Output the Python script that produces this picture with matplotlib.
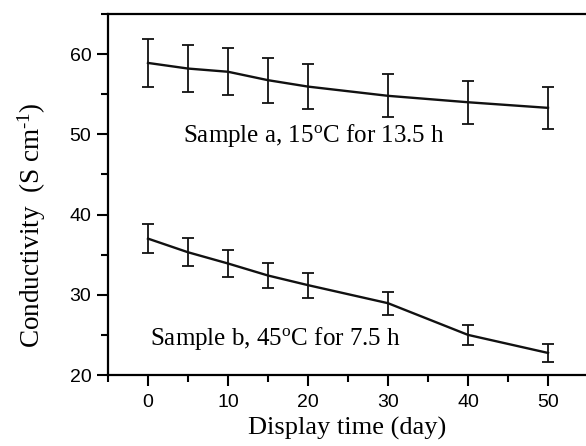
import matplotlib.pyplot as plt
from matplotlib.ticker import MultipleLocator

plt.rcParams['mathtext.fontset'] = 'custom'
plt.rcParams['mathtext.rm'] = 'Liberation Serif'
plt.rcParams['mathtext.it'] = 'Liberation Serif:italic'
plt.rcParams['font.family'] = 'Liberation Sans'

# display time (day)
days = [0, 5, 10, 15, 20, 30, 40, 50]

# Sample a, 15 C for 13.5 h
cond_a = [58.9, 58.2, 57.8, 56.75, 55.95, 54.8, 54.0, 53.3]
err_a = [2.95, 2.9, 2.9, 2.8, 2.8, 2.7, 2.7, 2.65]

# Sample b, 45 C for 7.5 h
cond_b = [37.0, 35.3, 33.9, 32.4, 31.2, 28.95, 25.0, 22.75]
err_b = [1.85, 1.75, 1.7, 1.6, 1.55, 1.45, 1.2, 1.15]

fig = plt.figure(figsize=(5.86, 4.46), dpi=100)
ax = fig.add_axes([108 / 586, 71 / 446, 478 / 586, 361 / 446])

for y, e in [(cond_a, err_a), (cond_b, err_b)]:
    ax.errorbar(days, y, yerr=e, color='#111111', lw=1.7, elinewidth=1.3,
                capsize=4, capthick=1.3)

ax.set_xlim(-5, 54.75)
ax.set_ylim(20, 65)
ax.xaxis.set_major_locator(MultipleLocator(10))
ax.xaxis.set_minor_locator(MultipleLocator(5))
ax.yaxis.set_major_locator(MultipleLocator(10))
ax.yaxis.set_minor_locator(MultipleLocator(5))
ax.tick_params(which='major', direction='out', length=8, width=1.5,
               labelsize=14, pad=4)
ax.tick_params(axis='x', which='major', pad=6)
ax.tick_params(which='minor', direction='out', length=5, width=1.5)
ax.set_xticks([0, 10, 20, 30, 40, 50])

ax.spines['right'].set_visible(False)
for s in ['left', 'bottom', 'top']:
    ax.spines[s].set_linewidth(1.6)

ax.text(4.4, 49.9, 'Sample a, 15$^{\\rm o}$C for 13.5 h', fontsize=18,
        family='Liberation Serif', va='center', ha='left')
ax.text(0.25, 24.5, 'Sample b, 45$^{\\rm o}$C for 7.5 h', fontsize=18,
        family='Liberation Serif', va='center', ha='left')

ax.set_xlabel('Display time (day)', fontsize=19, family='Liberation Serif',
              labelpad=4)
ax.set_ylabel('Conductivity  (S cm$^{\\text{-1}}$)', fontsize=19.5,
              family='Liberation Serif')
ax.yaxis.set_label_coords(-0.125, 0.415)

fig.savefig('out.png', dpi=100)
